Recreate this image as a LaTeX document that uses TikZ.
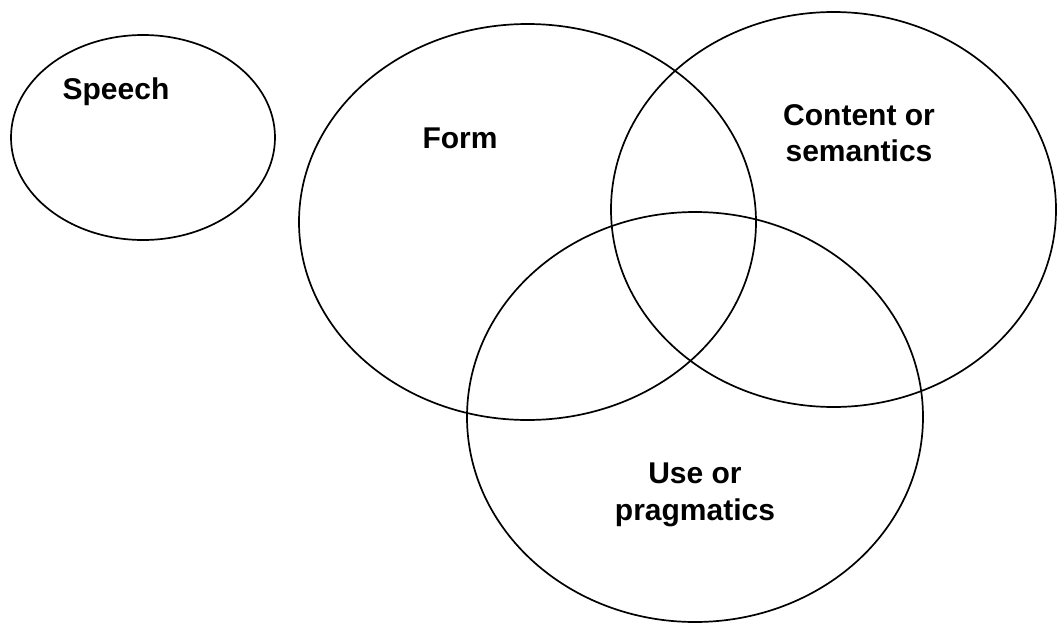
\documentclass[tikz,border=0pt]{standalone}
\usepackage{fontspec}
\setmainfont{Liberation Sans}
\usetikzlibrary{shapes.geometric}
\begin{document}
\begin{tikzpicture}[x=1pt,y=-1pt,
  circ/.style={draw=black, line width=1.7pt, ellipse, inner sep=0pt, outer sep=0pt},
  lbl/.style={font=\fontsize{30}{36.5}\selectfont\bfseries, align=center, inner sep=0pt}]
\useasboundingbox (0,0) rectangle (1057,624);
\node[circ, minimum width=264pt, minimum height=205pt] (speech) at (143,137.5) {};
\node[circ, minimum width=457pt, minimum height=396pt] (form) at (527.5,222) {};
\node[circ, minimum width=445pt, minimum height=395pt] (content) at (833.5,209.5) {};
\node[circ, minimum width=456pt, minimum height=410pt] (use) at (695,417) {};
\node[lbl, anchor=base] (tspeech) at (116,99) {Speech};
\node[lbl, anchor=base] (tform) at (460,148) {Form};
\node[lbl, anchor=center] (tcontent) at (859,133) {Content or\\semantics};
\node[lbl, anchor=center] (tuse) at (695,495) {Use or\\pragmatics};
\end{tikzpicture}
\end{document}
